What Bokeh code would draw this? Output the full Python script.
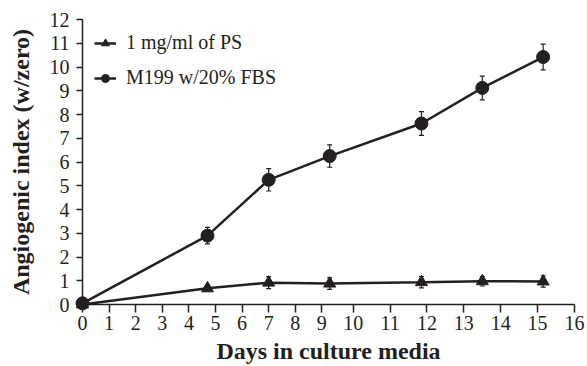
import numpy as np
from bokeh.plotting import figure
from bokeh.models import (Range1d, FixedTicker, Whisker, ColumnDataSource, Legend, LegendItem, TeeHead)
from bokeh.embed import file_html
from bokeh.resources import INLINE

# ---- data ----
days = [0, 4.7, 7.0, 9.25, 11.85, 13.5, 15.15]
ps_vals = [0.0, 0.68, 0.92, 0.88, 0.94, 0.98, 0.97]
ps_err = [0.0, 0.08, 0.25, 0.24, 0.24, 0.2, 0.24]
fbs_vals = [0.05, 2.9, 5.25, 6.25, 7.62, 9.12, 10.42]
fbs_err = [0.0, 0.35, 0.47, 0.47, 0.5, 0.5, 0.54]
x_ticks = list(range(0, 17))
y_ticks = list(range(0, 13))
series_names = ["1 mg/ml of PS", "M199 w/20% FBS"]

# The reference's day axis is piecewise linear (wider spacing after day 9)
warp_days = [0, 9, 10, 16]
warp_pos = [0, 9.0, 10.18, 18.5]


def warp(d):
    return np.interp(d, warp_days, warp_pos)


INK = "#231f20"
FONT = "Liberation Serif"

p = figure(width=587, height=366, output_backend="svg", toolbar_location=None,
           x_range=Range1d(0, warp(16)), y_range=Range1d(0, 12),
           min_border_left=82, min_border_right=13, min_border_top=19, min_border_bottom=62)
p.outline_line_color = None
p.grid.visible = False
p.background_fill_color = "white"

for ax in (p.xaxis[0], p.yaxis[0]):
    ax.axis_line_color = INK
    ax.axis_line_width = 1.5
    ax.major_tick_line_color = INK
    ax.major_tick_line_width = 1.5
    ax.minor_tick_line_color = None
    ax.major_tick_in = 0
    ax.major_label_text_font = FONT
    ax.major_label_text_font_size = "20px"
    ax.major_label_text_color = INK
    ax.axis_label_text_font = FONT
    ax.axis_label_text_font_style = "bold"
    ax.axis_label_text_color = INK

p.xaxis.ticker = FixedTicker(ticks=[float(warp(t)) for t in x_ticks])
p.xaxis.major_label_overrides = {float(warp(t)): str(t) for t in x_ticks}
p.xaxis.major_tick_out = 8
p.xaxis.major_label_standoff = 3
p.xaxis.axis_label = "Days in culture media"
p.xaxis.axis_label_text_font_size = "24px"
p.xaxis.axis_label_standoff = 5

p.yaxis.ticker = FixedTicker(ticks=y_ticks)
p.yaxis.major_tick_out = 6
p.yaxis.major_label_standoff = 7
p.yaxis.axis_label = "Angiogenic index (w/zero)"
p.yaxis.axis_label_text_font_size = "24px"
p.yaxis.axis_label_standoff = 13

wx = warp(days)
src_ps = ColumnDataSource(dict(x=wx, y=ps_vals,
                               lo=np.array(ps_vals) - np.array(ps_err),
                               hi=np.array(ps_vals) + np.array(ps_err)))
src_fbs = ColumnDataSource(dict(x=wx, y=fbs_vals,
                                lo=np.array(fbs_vals) - np.array(fbs_err),
                                hi=np.array(fbs_vals) + np.array(fbs_err)))

for src in (src_ps, src_fbs):
    w = Whisker(source=src, base="x", lower="lo", upper="hi", line_color=INK, line_width=1.2,
                upper_head=TeeHead(size=5, line_color=INK, line_width=1.2),
                lower_head=TeeHead(size=5, line_color=INK, line_width=1.2))
    p.add_layout(w)

l1 = p.line("x", "y", source=src_ps, line_color=INK, line_width=2.5, level="overlay")
s1 = p.scatter("x", "y", source=src_ps, marker="triangle", size=12, fill_color=INK, line_color=INK, level="overlay")
l2 = p.line("x", "y", source=src_fbs, line_color=INK, line_width=2.5, level="overlay")
s2 = p.scatter("x", "y", source=src_fbs, marker="circle", size=13, fill_color=INK, line_color=INK, level="overlay")

legend = Legend(items=[LegendItem(label=series_names[0], renderers=[l1, s1]),
                       LegendItem(label=series_names[1], renderers=[l2, s2])],
                location="top_left", border_line_color=None, background_fill_alpha=0,
                label_text_font=FONT, label_text_font_size="20px", label_text_color=INK,
                margin=12, padding=8, spacing=12, label_height=20, glyph_height=20,
                glyph_width=22, label_standoff=10)
p.add_layout(legend)

open("out.html", "w").write(file_html(p, INLINE))
